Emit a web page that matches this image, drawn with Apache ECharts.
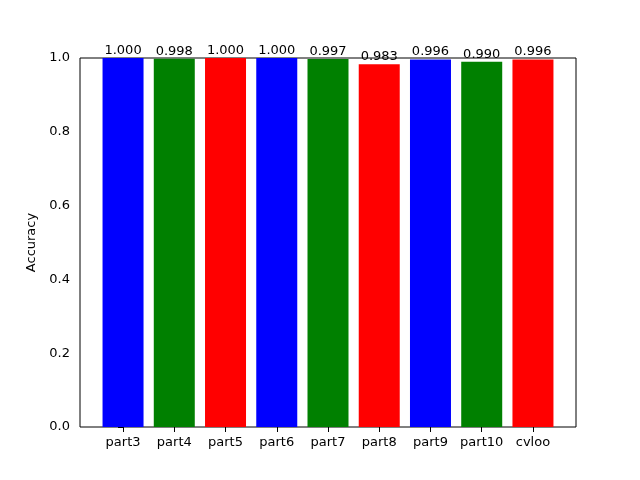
<!DOCTYPE html>
<html><head><meta charset="utf-8">
<script src="https://cdn.jsdelivr.net/npm/echarts@6/dist/echarts.min.js"></script>
<style>html,body{margin:0;padding:0;background:#fff}#c{width:640px;height:480px}</style>
</head><body><div id="c"></div>
<script>
const categories = ['part3','part4','part5','part6','part7','part8','part9','part10','cvloo'];
const accuracy = [1.000, 0.998, 1.000, 1.000, 0.997, 0.983, 0.996, 0.990, 0.996];
const barColors = ['#0000ff','#008000','#ff0000'];
const yTicks = [0, 0.2, 0.4, 0.6, 0.8, 1.0];

const chart = echarts.init(document.getElementById('c'), null, {renderer:'canvas'});
const font = 'DejaVu Sans';
chart.setOption({
  animation:false,
  grid:{left:80,right:64,top:58,bottom:53,show:true,borderColor:'#000',borderWidth:1,backgroundColor:'transparent'},
  xAxis:{type:'value',min:-0.84,max:8.84,
    axisLine:{show:false},
    splitLine:{show:false},
    axisTick:{show:true,length:5,lineStyle:{color:'#000'},customValues:categories.map((c,i)=>i)},
    axisLabel:{color:'#000',fontFamily:font,fontSize:13,margin:9,customValues:categories.map((c,i)=>i),
      formatter:v=>categories[Math.round(v)]}},
  yAxis:{type:'value',min:0,max:1,interval:0.2,
    name:'Accuracy',nameLocation:'middle',nameGap:38,nameRotate:90,
    nameTextStyle:{color:'#000',fontFamily:font,fontSize:13},
    axisLine:{show:false},
    splitLine:{show:false},
    axisTick:{show:true,length:5,lineStyle:{color:'#000'},customValues:yTicks},
    axisLabel:{color:'#000',fontFamily:font,fontSize:13,margin:10,customValues:yTicks,formatter:v=>v.toFixed(1)}},
  series:[{type:'bar',barWidth:41,z:1,
    data:accuracy.map((v,i)=>({value:[i,v],itemStyle:{color:barColors[i%3]}})),
    label:{show:true,position:'top',distance:1,color:'#000',fontFamily:font,fontSize:13,
      formatter:p=>p.value[1].toFixed(3)}}]
});
</script></body></html>
